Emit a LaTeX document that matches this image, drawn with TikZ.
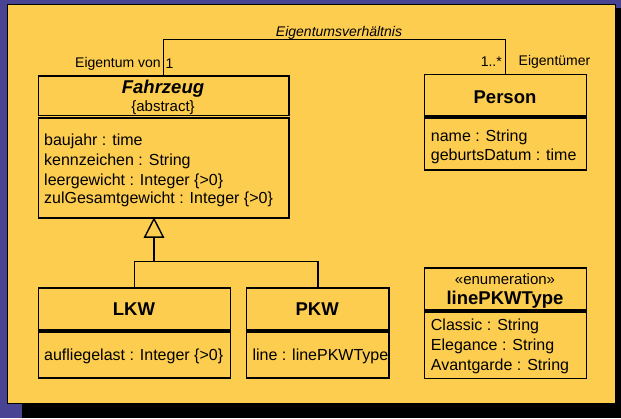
\documentclass[tikz,border=0pt]{standalone}
\usepackage{fontspec}
\setmainfont{Liberation Sans}
\usetikzlibrary{arrows.meta}
\definecolor{bgblue}{HTML}{484393}
\definecolor{panel}{HTML}{FDCD50}
\begin{document}
\begin{tikzpicture}[x=1pt,y=-1pt,
  comp/.style={draw=black, line width=1.4pt, fill=panel, inner sep=0pt,
    anchor=north west},
  link/.style={draw=black, line width=1.4pt},
  hdr/.style={font=\fontsize{18.5}{22}\selectfont\bfseries, inner sep=0pt},
  attr/.style={font=\fontsize{16}{19}\selectfont, inner sep=0pt, anchor=west,
    text height=11.5pt, text depth=3.4pt},
  role/.style={font=\fontsize{14}{17}\selectfont, inner sep=0pt},
  stereo/.style={font=\fontsize{15}{18}\selectfont, inner sep=0pt}
]
% backdrop, shadow and sheet
\useasboundingbox (0,0) rectangle (621,418);
\fill[bgblue] (0,0) rectangle (621,418);
\fill[black] (22,8) rectangle (621,418);
\filldraw[fill=panel, draw=black, line width=1.2pt] (7.8,4.2) rectangle (615.2,403.6);

% class Fahrzeug
\node[comp, minimum width=250.6pt, minimum height=39.7pt] (fzh) at (37.7,75.3) {};
\node[comp, minimum width=250.6pt, minimum height=100pt] (fza) at (37.7,117.3) {};
\node[hdr, font=\fontsize{18.5}{22}\selectfont\bfseries\itshape] (fzname) at (163,88.3) {Fahrzeug};
\node[stereo] (fzabs) at (163,107.8) {\{abstract\}};
\node[attr] (fz1) at (44,141) {baujahr : time};
\node[attr] (fz2) at (44,161.3) {kennzeichen : String};
\node[attr] (fz3) at (44,181) {leergewicht : Integer \{>0\}};
\node[attr] (fz4) at (44,199.5) {zulGesamtgewicht : Integer \{>0\}};

% class Person
\node[comp, minimum width=162pt, minimum height=41.3pt] (psh) at (424,74) {};
\node[comp, minimum width=162pt, minimum height=52pt] (psa) at (424,117.3) {};
\node[hdr] (psname) at (505,97.7) {Person};
\node[attr] (ps1) at (430.7,137.3) {name : String};
\node[attr] (ps2) at (430.7,156.7) {geburtsDatum : time};

% class LKW
\node[comp, minimum width=192.3pt, minimum height=42pt] (lkh) at (37.7,287.3) {};
\node[comp, minimum width=192.3pt, minimum height=46pt] (lka) at (37.7,331.3) {};
\node[hdr] (lkname) at (134,309.3) {LKW};
\node[attr] (lk1) at (44,356.7) {aufliegelast : Integer \{>0\}};

% class PKW
\node[comp, minimum width=142.3pt, minimum height=42pt] (pkh) at (246,287.3) {};
\node[comp, minimum width=142.3pt, minimum height=46pt] (pka) at (246,331.3) {};
\node[hdr] (pkname) at (317.2,309.3) {PKW};
\node[attr] (pk1) at (252.3,356.7) {line : linePKWType};

% enumeration linePKWType
\node[comp, minimum width=162pt, minimum height=42pt] (enh) at (424,267.3) {};
\node[comp, minimum width=162pt, minimum height=66.4pt] (ena) at (424,311.3) {};
\node[stereo] (enst) at (505,279.3) {«enumeration»};
\node[hdr] (enname) at (505,299.3) {linePKWType};
\node[attr] (en1) at (430.7,326.7) {Classic : String};
\node[attr] (en2) at (430.7,346.7) {Elegance : String};
\node[attr] (en3) at (430.7,366.7) {Avantgarde : String};

% association Eigentumsverhaeltnis
\draw[link] (fzh.north) -- ++(0,-36) -| (psh.north);
\node[role, font=\fontsize{14}{17}\selectfont\itshape, anchor=south] (asname) at (339,39.5) {Eigentumsverhältnis};
\node[role, anchor=east] (r1) at (161,64) {Eigentum von};
\node[role, anchor=west] (m1) at (165.5,64) {1};
\node[role, anchor=east] (m2) at (502,62) {1..*};
\node[role, anchor=west] (r2) at (518.5,62) {Eigentümer};

% generalisation
\coordinate (apex) at (154,217.3);
\coordinate (junc) at (154,261.5);
\draw[link] (lkh.north) |- (junc) -| (pkh.north);
\draw[link, -{Triangle[open, length=20.5pt, width=20.5pt, fill=panel]}] (junc) -- (apex);
\end{tikzpicture}
\end{document}
